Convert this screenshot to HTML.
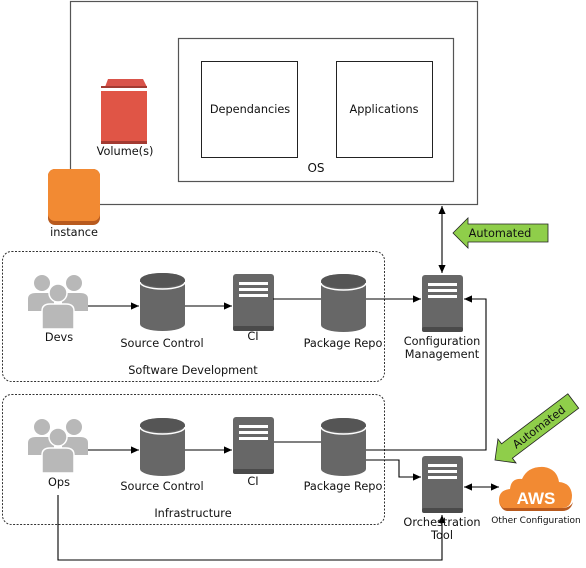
<!DOCTYPE html>
<html><head><meta charset="utf-8"><style>
body{margin:0;background:#fff}
text{font-family:"DejaVu Sans","Liberation Sans",sans-serif;font-size:11.3px;fill:#111}
</style></head><body>
<svg width="586" height="563" viewBox="0 0 586 563" xmlns="http://www.w3.org/2000/svg">
<defs>
<marker id="a" viewBox="0 0 10 10" refX="10" refY="5" markerUnits="userSpaceOnUse" markerWidth="9" markerHeight="8" orient="auto-start-reverse"><path d="M0,0.5 L10,5 L0,9.5 z" fill="#000"/></marker>
<g id="srv"><rect x="0" y="0" width="41" height="57" rx="3" fill="#676767"/><rect x="0" y="52" width="41" height="5" rx="2" fill="#4a4a4a"/><rect x="6" y="8" width="29" height="3" fill="#fff"/><rect x="6" y="14" width="29" height="3" fill="#fff"/><rect x="6" y="20" width="29" height="3" fill="#fff"/></g>
<g id="cyl"><path d="M0,7 A22.5,7 0 0 1 45,7 L45,51 A22.5,7 0 0 1 0,51 z" fill="#676767"/><ellipse cx="22.5" cy="7" rx="22.5" ry="7" fill="#555"/><path d="M0,9 A22.5,7 0 0 0 45,9" fill="none" stroke="#fff" stroke-width="1.5"/></g>
<g id="ppl" fill="#b8b8b8"><circle cx="14" cy="10" r="8"/><path d="M0,38 L0,26 Q0,20 8,20 L20,20 Q26,20 26,26 L26,38z"/><circle cx="46" cy="10" r="8"/><path d="M34,38 L34,26 Q34,20 40,20 L52,20 Q60,20 60,26 L60,38z"/><circle cx="30" cy="20" r="9" stroke="#fff" stroke-width="1.5"/><path d="M14,56 L14,38 Q14,31 22,31 L38,31 Q46,31 46,38 L46,56z" stroke="#fff" stroke-width="1.5"/></g>
</defs>
<rect x="70.5" y="1.5" width="407" height="203" fill="none" stroke="#555" stroke-width="1.2"/>
<rect x="178.5" y="38.5" width="275" height="143" fill="none" stroke="#555" stroke-width="1.2"/>
<rect x="201.5" y="61.5" width="96" height="96" fill="#fff" stroke="#222"/>
<rect x="336.5" y="61.5" width="96" height="96" fill="#fff" stroke="#222"/>
<text x="250" y="113" text-anchor="middle">Dependancies</text>
<text x="384" y="113" text-anchor="middle">Applications</text>
<text x="316" y="172" text-anchor="middle" style="font-size:12px">OS</text>
<path d="M105,87 L108,79 L143,79 L147,87z" fill="#d9534a"/>
<rect x="101" y="86" width="46" height="2" fill="#a33a32"/>
<rect x="101" y="91" width="46" height="52" fill="#e05546"/>
<rect x="101" y="141" width="46" height="3" fill="#a33a32"/>
<text x="125" y="155" text-anchor="middle">Volume(s)</text>
<rect x="48" y="169" width="52" height="56" rx="7" fill="#b85a1e"/>
<rect x="48" y="169" width="52" height="52" rx="7" fill="#f28a33"/>
<text x="74" y="236" text-anchor="middle">instance</text>
<rect x="2.5" y="251.5" width="382" height="130" rx="9" fill="none" stroke="#333" stroke-dasharray="2,1.5"/>
<rect x="2.5" y="394.5" width="382" height="130" rx="9" fill="none" stroke="#333" stroke-dasharray="2,1.5"/>
<use href="#ppl" x="28" y="273"/>
<use href="#cyl" x="140" y="273"/>
<use href="#srv" x="233" y="274"/>
<use href="#cyl" x="321" y="274"/>
<text x="59" y="341" text-anchor="middle">Devs</text>
<text x="162" y="347" text-anchor="middle">Source Control</text>
<text x="253" y="340" text-anchor="middle">CI</text>
<text x="343" y="347" text-anchor="middle">Package Repo</text>
<text x="193" y="374" text-anchor="middle">Software Development</text>
<g stroke="#000" stroke-width="1.1" fill="none">
<line x1="88" y1="306" x2="139" y2="306" marker-end="url(#a)"/>
<line x1="185" y1="306" x2="232" y2="306" marker-end="url(#a)"/>
<line x1="273" y1="299" x2="321" y2="299"/>
<line x1="366" y1="299" x2="421" y2="299" marker-end="url(#a)"/>
<line x1="88" y1="450" x2="139" y2="450" marker-end="url(#a)"/>
<line x1="185" y1="450" x2="232" y2="450" marker-end="url(#a)"/>
<line x1="273" y1="442" x2="321" y2="442"/>
<polyline points="366,450 486,450 486,299 464,299" marker-end="url(#a)"/>
<polyline points="366,460 399,460 399,477 421,477" marker-end="url(#a)"/>
<polyline points="58,495 58,560 442,560 442,515" marker-end="url(#a)"/>
<line x1="442" y1="206" x2="442" y2="273" marker-start="url(#a)" marker-end="url(#a)"/>
<line x1="464" y1="487" x2="499" y2="487" marker-start="url(#a)" marker-end="url(#a)"/>
</g>
<use href="#ppl" x="28" y="417"/>
<use href="#cyl" x="140" y="418"/>
<use href="#srv" x="233" y="417"/>
<use href="#cyl" x="321" y="418"/>
<text x="59" y="486" text-anchor="middle">Ops</text>
<text x="162" y="490" text-anchor="middle">Source Control</text>
<text x="253" y="485" text-anchor="middle">CI</text>
<text x="343" y="490" text-anchor="middle">Package Repo</text>
<text x="193" y="517" text-anchor="middle">Infrastructure</text>
<use href="#srv" x="422" y="275"/>
<text x="442" y="345" text-anchor="middle">Configuration</text>
<text x="442" y="358" text-anchor="middle">Management</text>
<use href="#srv" x="422" y="456"/>
<text x="442" y="526" text-anchor="middle">Orchestration</text>
<text x="442" y="539" text-anchor="middle">Tool</text>
<path d="M505,508 Q499,508 499,500 Q499,490 510,489 Q511,478 522,479 Q528,466 544,467 Q557,469 559,482 Q571,483 572,495 Q572,508 562,508z" fill="#f28a33"/>
<path d="M500,503 Q501,510 507,511 L562,511 Q571,511 573,502 Q570,508 562,508 L505,508 Q501,508 500,503z" fill="#b85a1e"/>
<text x="536" y="504" text-anchor="middle" style="font-size:17px;font-weight:bold;fill:#fff;font-family:'Liberation Sans',sans-serif">AWS</text>
<text x="536" y="523" text-anchor="middle" style="font-size:9px">Other Configuration</text>
<path d="M453,233 L468,218 L468,224 L548,224 L548,242 L468,242 L468,248 z" fill="#8fce4a" stroke="#222" stroke-width="0.8"/>
<text x="500" y="237" text-anchor="middle">Automated</text>
<g transform="translate(495,460) rotate(-37)">
<path d="M0,0 L15,-15 L15,-9 L98,-9 L98,9 L15,9 L15,15 z" fill="#8fce4a" stroke="#222" stroke-width="0.8"/>
<text x="55" y="4" text-anchor="middle">Automated</text>
</g>
</svg>
</body></html>
